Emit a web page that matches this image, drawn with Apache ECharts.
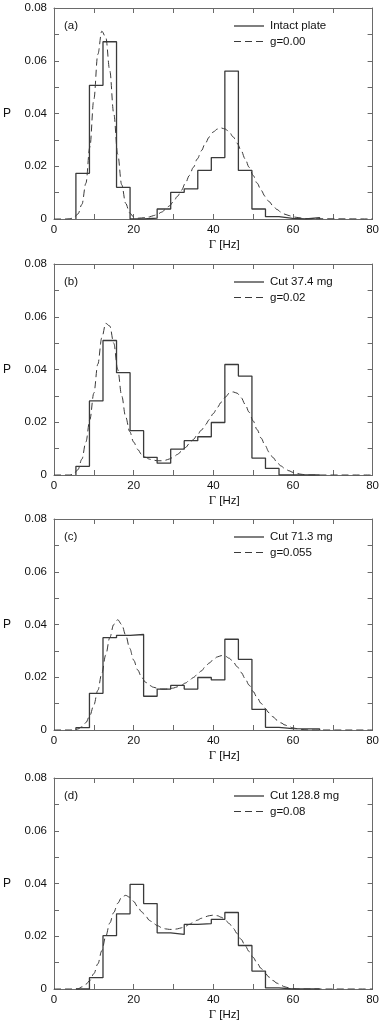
<!DOCTYPE html>
<html>
<head>
<meta charset="utf-8">
<script src="https://cdn.jsdelivr.net/npm/echarts@6/dist/echarts.min.js"></script>
<style>
html,body{margin:0;padding:0;background:#fff;}
#chart{width:382px;height:1028px;}
</style>
</head>
<body>
<div id="chart"></div>
<script>
// Histogram bin edges (Γ in Hz), shared by all four panels
const binEdges = [5.5, 8.9, 12.3, 15.7, 19.1, 22.5, 25.9, 29.3, 32.7, 36.1, 39.5, 42.9, 46.3, 49.7, 53.1, 56.5, 59.9, 63.3, 66.7];

// Histogram probabilities per bin
const histA = [0.0173, 0.0507, 0.0672, 0.0120, 0, 0.0003, 0.0038, 0.0101, 0.0114, 0.0184, 0.0233, 0.0561, 0.0184, 0.0038, 0.0009, 0.0002, 0, 0.0005];
const histB = [0.0033, 0.0281, 0.0510, 0.0388, 0.0168, 0.0067, 0.0045, 0.0098, 0.0130, 0.0145, 0.0199, 0.0419, 0.0375, 0.0064, 0.0025, 0, 0, 0];
const histC = [0.0009, 0.0139, 0.0350, 0.0359, 0.0362, 0.0128, 0.0155, 0.0169, 0.0155, 0.0199, 0.0190, 0.0344, 0.0268, 0.0078, 0.0010, 0.0005, 0.0004, 0.0004];
const histD = [0, 0.0043, 0.0202, 0.0285, 0.0397, 0.0324, 0.0213, 0.0207, 0.0245, 0.0248, 0.0264, 0.0290, 0.0165, 0.0068, 0.0004, 0, 0, 0];

// Model curve sample positions (Hz) and values
const curveGamma = [0,1,2,3,4,5,6,7,8,9,10,11,12,13,14,15,16,17,18,19,20,21,22,23,24,25,26,27,28,29,30,31,32,33,34,35,36,37,38,39,40,41,42,43,44,45,46,47,48,49,50,51,52,53,54,55,56,57,58,59,60,61,62,63,64,80];
const curveA = [0,0,0,0,0.0001,0.0005,0.0019,0.0055,0.0135,0.0272,0.0453,0.0624,0.0712,0.0689,0.0563,0.0400,0.0246,0.0130,0.0059,0.0023,0.0008,0.0003,0.0004,0.0006,0.0008,0.0013,0.0018,0.0026,0.0036,0.0050,0.0066,0.0086,0.0109,0.0136,0.0165,0.0196,0.0228,0.0259,0.0287,0.0311,0.0330,0.0341,0.0345,0.0341,0.0330,0.0311,0.0287,0.0259,0.0228,0.0196,0.0165,0.0136,0.0109,0.0086,0.0066,0.0050,0.0036,0.0026,0.0018,0.0013,0.0008,0.0006,0.0004,0.0002,0.0001,0];
const curveB = [0,0,0,0,0,0.0005,0.0020,0.0060,0.0125,0.0210,0.0310,0.0420,0.0520,0.0575,0.0565,0.0500,0.0400,0.0300,0.0220,0.0165,0.0125,0.0097,0.0078,0.0067,0.0060,0.0056,0.0054,0.0054,0.0056,0.0061,0.0068,0.0078,0.0090,0.0104,0.0119,0.0135,0.0152,0.0170,0.0190,0.0210,0.0233,0.0256,0.0276,0.0295,0.0310,0.0315,0.0310,0.0293,0.0268,0.0238,0.0205,0.0172,0.0140,0.0112,0.0087,0.0066,0.0048,0.0034,0.0024,0.0016,0.0010,0.0006,0.0003,0.0001,0,0];
const curveC = [0,0,0,0,0,0,0.0004,0.0012,0.0028,0.0055,0.0095,0.0150,0.0215,0.0285,0.0350,0.0400,0.0418,0.0400,0.0360,0.0310,0.0265,0.0228,0.0200,0.0181,0.0169,0.0162,0.0158,0.0155,0.0155,0.0156,0.0159,0.0164,0.0170,0.0178,0.0188,0.0199,0.0211,0.0224,0.0240,0.0254,0.0267,0.0277,0.0282,0.0280,0.0272,0.0258,0.0240,0.0218,0.0195,0.0170,0.0146,0.0123,0.0101,0.0082,0.0065,0.0050,0.0037,0.0027,0.0019,0.0013,0.0008,0.0005,0.0002,0.0001,0,0];
const curveD = [0,0,0,0,0,0,0,0.0008,0.0018,0.0032,0.0058,0.0095,0.0145,0.0200,0.0250,0.0290,0.0325,0.0348,0.0355,0.0348,0.0332,0.0312,0.0293,0.0276,0.0260,0.0248,0.0240,0.0233,0.0228,0.0226,0.0226,0.0228,0.0232,0.0238,0.0245,0.0253,0.0261,0.0268,0.0274,0.0278,0.0280,0.0278,0.0272,0.0262,0.0248,0.0230,0.0210,0.0188,0.0164,0.0142,0.0120,0.0098,0.0078,0.0060,0.0045,0.0032,0.0022,0.0014,0.0008,0.0004,0.0002,0,0,0,0,0];

// Panel texts
const panelLabels = ['(a)', '(b)', '(c)', '(d)'];
const histNames = ['Intact plate', 'Cut 37.4 mg', 'Cut 71.3 mg', 'Cut 128.8 mg'];
const curveNames = ['g=0.00', 'g=0.02', 'g=0.055', 'g=0.08'];
const xTicks = [0, 20, 40, 60, 80];
const yTicks = [0, 0.02, 0.04, 0.06, 0.08];
const xTitle = 'Γ [Hz]';
const yTitle = 'P';

const hists = [histA, histB, histC, histD];
const curves = [curveA, curveB, curveC, curveD];
const panelTops = [8, 264, 519, 778];
const plotH = 211;
const plotL = 50, plotW = 324;

const FONT = '"Liberation Sans", Arial, sans-serif';
const frameColor = '#6a6a6a';
const inkColor = '#3a3a3a';
const dashPattern = [7, 4];

const grid = [], xAxis = [], yAxis = [], series = [], graphic = [];

function histStepData(vals) {
  const d = [[binEdges[0], 0]];
  vals.forEach((v, i) => d.push([binEdges[i], v]));
  d.push([binEdges[vals.length], 0]);
  return d;
}

panelTops.forEach((top, i) => {
  grid.push({ left: plotL, top: top, width: plotW, height: plotH, show: false });
  const tick = { show: true, inside: true, length: 5, lineStyle: { color: frameColor, width: 1 } };
  const line = { show: true, onZero: false, lineStyle: { color: frameColor, width: 1 } };
  xAxis.push({
    type: 'value', gridIndex: i, min: 0, max: 80, interval: 10, position: 'bottom',
    axisLine: line, axisTick: tick, splitLine: { show: false },
    axisLabel: { show: true, margin: 5, color: '#111', fontSize: 11.5, fontFamily: FONT,
      formatter: v => xTicks.indexOf(v) >= 0 ? String(v) : '' },
    name: '{g|Γ}{t| [Hz]}', nameLocation: 'middle', nameGap: 19,
    nameTextStyle: { padding: [0, 0, 0, 22], rich: {
      g: { fontFamily: '"Liberation Serif", "DejaVu Serif", serif', fontSize: 12.5, color: '#111' },
      t: { fontFamily: FONT, fontSize: 11.5, color: '#111' } } }
  });
  xAxis.push({
    type: 'value', gridIndex: i, min: 0, max: 80, interval: 10, position: 'top',
    axisLine: line, axisTick: tick, splitLine: { show: false }, axisLabel: { show: false }
  });
  yAxis.push({
    type: 'value', gridIndex: i, min: 0, max: 0.08, interval: 0.01, position: 'left',
    axisLine: line, axisTick: tick, splitLine: { show: false },
    axisLabel: { show: true, margin: 7, color: '#111', fontSize: 11.5, fontFamily: FONT,
      formatter: v => {
        const r = Math.round(v * 100);
        return r % 2 === 0 ? (r === 0 ? '0' : (r / 100).toFixed(2)) : '';
      } },
    name: yTitle, nameLocation: 'middle', nameGap: 43, nameRotate: 0,
    nameTextStyle: { color: '#111', fontSize: 12, fontFamily: FONT, padding: [0, 0, 12, 0] }
  });
  yAxis.push({
    type: 'value', gridIndex: i, min: 0, max: 0.08, interval: 0.01, position: 'right',
    axisLine: line, axisTick: tick, splitLine: { show: false }, axisLabel: { show: false }
  });

  series.push({
    name: histNames[i], type: 'line', xAxisIndex: 2 * i, yAxisIndex: 2 * i,
    step: 'end', symbol: 'none', silent: true,
    lineStyle: { color: inkColor, width: 1.3 },
    data: histStepData(hists[i]), z: 3
  });
  series.push({
    name: curveNames[i], type: 'line', xAxisIndex: 2 * i, yAxisIndex: 2 * i,
    smooth: 0.35, smoothMonotone: 'x', symbol: 'none', silent: true,
    lineStyle: { color: inkColor, width: 1, type: dashPattern },
    data: curveGamma.map((g, k) => [g, curves[i][k]]), z: 2
  });

  // legend keys (drawn as graphic so they show only the line style)
  const r1 = top + 18, r2 = top + 33.5;
  graphic.push({ type: 'line', shape: { x1: 234, y1: r1, x2: 264, y2: r1 },
    style: { stroke: inkColor, lineWidth: 1.3 }, silent: true });
  graphic.push({ type: 'line', shape: { x1: 234, y1: r2, x2: 264, y2: r2 },
    style: { stroke: inkColor, lineWidth: 1, lineDash: dashPattern }, silent: true });
  graphic.push({ type: 'text', x: 270, y: r1,
    style: { text: histNames[i], fill: '#111', font: '11.5px ' + FONT, textVerticalAlign: 'middle' } });
  graphic.push({ type: 'text', x: 270, y: r2,
    style: { text: curveNames[i], fill: '#111', font: '11.5px ' + FONT, textVerticalAlign: 'middle' } });

  graphic.push({
    type: 'text', x: 64, y: top + 18,
    style: { text: panelLabels[i], fill: '#111', font: '11.5px ' + FONT, textVerticalAlign: 'middle' }
  });
});

const chart = echarts.init(document.getElementById('chart'), null, { renderer: 'canvas' });
chart.setOption({
  animation: false,
  backgroundColor: '#fff',
  grid, xAxis, yAxis, series, graphic
});
</script>
</body>
</html>
